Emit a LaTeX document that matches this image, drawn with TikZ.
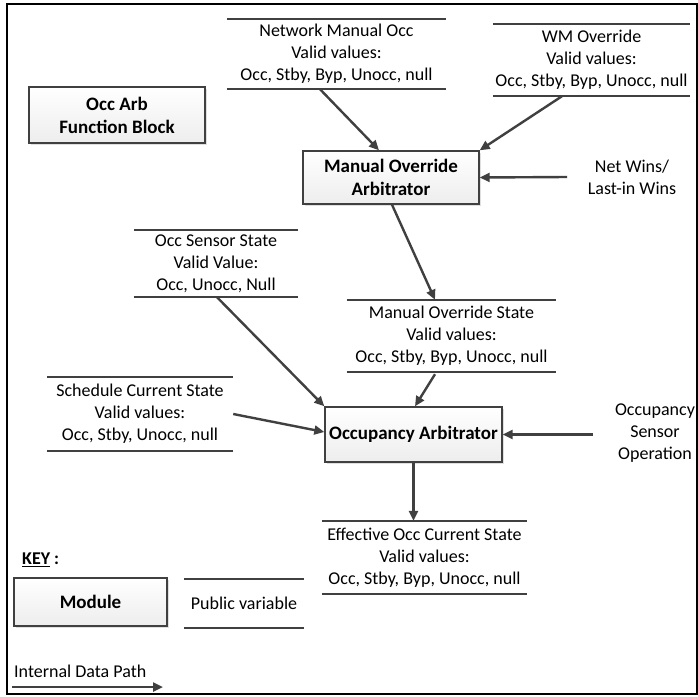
\documentclass[tikz,border=0pt]{standalone}
\usepackage{fontspec}
\setmainfont{Carlito}
\usetikzlibrary{arrows.meta,shadows}
\definecolor{ln}{HTML}{404040}
\tikzset{
  txt/.style={font=\fontsize{18}{22}\selectfont, align=center, inner sep=0pt},
  pv/.style={txt, minimum height=#1},
  pvline/.style={draw=ln, line width=1.8pt},
  box/.style={draw=ln, line width=1.4pt, top color=white, bottom color=gray!14,
    drop shadow={shadow xshift=2pt, shadow yshift=-2pt, opacity=0.25},
    font=\bfseries\fontsize{19}{23}\selectfont, align=center, inner sep=0pt},
  arr/.style={draw=ln, line width=2.4pt, -{Triangle[length=10pt,width=9pt]}},
}
\begin{document}
\begin{tikzpicture}[x=1pt,y=-1pt]
\useasboundingbox (0,0) rectangle (698,696);
\draw[line width=2.2pt] (7,4) rectangle (697,694);

% modules
\node[box, minimum width=176pt, minimum height=56pt] (ocb) at (117,115) {Occ Arb\\Function Block};
\node[box, minimum width=176pt, minimum height=53pt] (moa) at (391,177.5) {Manual Override\\Arbitrator};
\node[box, minimum width=177pt, minimum height=55pt] (oa) at (413.5,434.5) {Occupancy Arbitrator};
\node[box, minimum width=153pt, minimum height=48pt] (mod) at (90.5,602) {Module};

% public variables
\node[pv=70pt, minimum width=219pt] (nmo) at (336.5,54) {Network Manual Occ\\Valid values:\\Occ, Stby, Byp, Unocc, null};
\node[pv=72pt, minimum width=197pt] (wmo) at (591.5,60) {WM Override\\Valid values:\\Occ, Stby, Byp, Unocc, null};
\node[pv=67pt, minimum width=164pt] (oss) at (216,263.5) {Occ Sensor State\\Valid Value:\\Occ, Unocc, Null};
\node[pv=72pt, minimum width=209pt] (mos) at (451.5,336) {Manual Override State\\Valid values:\\Occ, Stby, Byp, Unocc, null};
\node[pv=74pt, minimum width=186pt] (scs) at (140,414) {Schedule Current State\\Valid values:\\Occ, Stby, Unocc, null};
\node[pv=73pt, minimum width=205pt] (eoc) at (424.5,557.5) {Effective Occ Current State\\Valid values:\\Occ, Stby, Byp, Unocc, null};
\node[pv=49pt, minimum width=120pt] (kpv) at (244,603.5) {\raisebox{-3pt}{Public variable}};

\foreach \n in {nmo,wmo,oss,mos,scs,eoc,kpv}{
  \draw[pvline] (\n.north west) -- (\n.north east);
  \draw[pvline] (\n.south west) -- (\n.south east);
}

% free texts
\node[txt] (nw) at (632,177) {Net Wins/\\Last-in Wins};
\node[txt] (oso) at (655,433) {Occupancy\\Sensor\\Operation};
\node[txt, anchor=west] (key) at (22,560) {\bfseries\underline{KEY} :};
\node[txt, anchor=west] (idp) at (14,671) {Internal Data Path};
\coordinate (ia) at (12,687);
\coordinate (ib) at (163,687);

% arrows
\draw[arr] ([xshift=-16.5pt]nmo.south) -- ([xshift=-12pt]moa.north);
\draw[arr] ([xshift=-29.5pt]wmo.south) -- (moa.north east);
\draw[arr] (567,177) coordinate (nwa) -- (moa.east);
\draw[arr] ([xshift=1pt]moa.south) -- ([xshift=-16.5pt]mos.north);
\draw[arr] ([xshift=1pt]oss.south) -- (oa.north west);
\draw[arr] (scs.east) -- ([yshift=2.5pt]oa.west);
\draw[arr] ([xshift=-16.5pt,yshift=-2pt]mos.south) -- ([xshift=1.5pt]oa.north);
\draw[arr] (593,434.5) coordinate (osa) -- (oa.east);
\draw[arr] (oa.south) -- (oa.south |- eoc.north);
\draw[arr] (ia) -- (ib);
\end{tikzpicture}
\end{document}
